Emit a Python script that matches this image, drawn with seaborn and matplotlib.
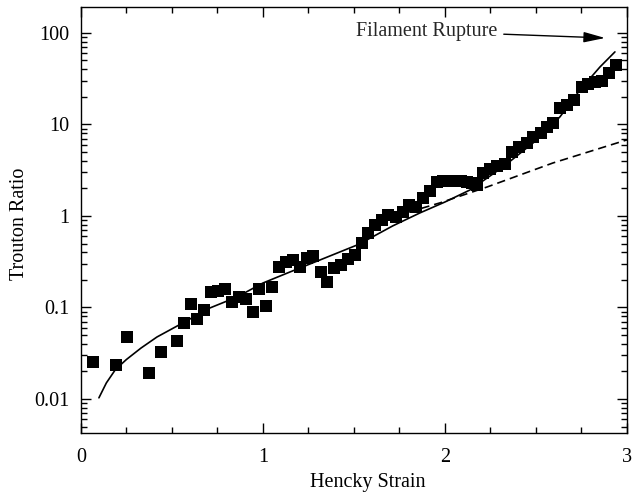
import numpy as np
import pandas as pd
import matplotlib
matplotlib.use("Agg")
import matplotlib.pyplot as plt
from matplotlib.ticker import LogLocator, FixedLocator, NullFormatter, FixedFormatter
import seaborn as sns

# --- data ---
strain = [0.066, 0.192, 0.253, 0.374, 0.440, 0.527, 0.566, 0.604, 0.637, 0.676,
          0.714, 0.753, 0.791, 0.830, 0.868, 0.907, 0.945, 0.978, 1.016, 1.049,
          1.088, 1.126, 1.165, 1.203, 1.242, 1.275, 1.319, 1.352, 1.390, 1.429,
          1.467, 1.505, 1.544, 1.577, 1.615, 1.654, 1.687, 1.731, 1.769, 1.802,
          1.841, 1.879, 1.918, 1.956, 1.989, 2.022, 2.055, 2.088, 2.121, 2.148,
          2.176, 2.209, 2.247, 2.286, 2.330, 2.368, 2.407, 2.451, 2.484, 2.527,
          2.560, 2.593, 2.632, 2.670, 2.709, 2.753, 2.786, 2.824, 2.863, 2.901,
          2.940]
trouton = [0.0254, 0.0235, 0.0476, 0.0192, 0.0327, 0.0430, 0.0678, 0.109, 0.0749, 0.094,
           0.148, 0.151, 0.159, 0.115, 0.130, 0.124, 0.0893, 0.159, 0.104, 0.168,
           0.277, 0.314, 0.330, 0.277, 0.348, 0.366, 0.244, 0.190, 0.270, 0.291,
           0.339, 0.375, 0.507, 0.652, 0.797, 0.904, 1.03, 0.975, 1.11, 1.32,
           1.25, 1.57, 1.88, 2.35, 2.41, 2.41, 2.41, 2.41, 2.35, 2.29,
           2.18, 2.95, 3.26, 3.52, 3.70, 5.01, 5.68, 6.28, 7.30, 8.07,
           9.39, 10.4, 15.1, 16.3, 18.5, 25.7, 27.7, 29.1, 29.9, 36.5,
           44.7]

model_strain = [0.099, 0.140, 0.190, 0.250, 0.330, 0.418, 0.560, 0.709, 0.857, 1.000,
                1.148, 1.313, 1.527, 1.714, 1.863, 2.000, 2.137, 2.319, 2.505, 2.632,
                2.742, 2.852, 2.934]
model_trouton = [0.0103, 0.0150, 0.0210, 0.0270, 0.0360, 0.0476, 0.0678, 0.0988, 0.130, 0.185,
                 0.244, 0.330, 0.49, 0.78, 1.08, 1.42, 1.92, 3.43, 6.77, 12.1,
                 23.8, 42.5, 62.0]

linear_strain = [1.80, 1.973, 2.231, 2.593, 3.0]
linear_trouton = [1.10, 1.39, 2.07, 3.79, 6.78]

ytick_vals = [0.01, 0.1, 1, 10, 100]
ytick_labels = ["0.01", "0.1", "1", "10", "100"]
xtick_vals = [0, 1, 2, 3]
xtick_labels = ["0", "1", "2", "3"]

sns.set_theme(style="ticks")
plt.rcParams["font.family"] = ["Liberation Serif", "DejaVu Serif"]

fig = plt.figure(figsize=(6.32, 4.98), dpi=100)
ax = fig.add_axes([0.128, 0.1305, 0.864, 0.8555])

df_pts = pd.DataFrame({"strain": strain, "trouton": trouton})
df_model = pd.DataFrame({"strain": model_strain, "trouton": model_trouton})
df_lin = pd.DataFrame({"strain": linear_strain, "trouton": linear_trouton})

sns.lineplot(data=df_lin, x="strain", y="trouton", ax=ax, color="black",
             linewidth=1.2, linestyle=(0, (5, 3)), sort=True)
sns.lineplot(data=df_model, x="strain", y="trouton", ax=ax, color="black",
             linewidth=1.2, sort=True)
sns.scatterplot(data=df_pts, x="strain", y="trouton", ax=ax, marker="s",
                color="black", s=75, edgecolor="none", zorder=3)

ax.set_yscale("log")
ax.set_xlim(0, 3)
ax.set_ylim(0.00425, 192)

ax.xaxis.set_major_locator(FixedLocator(xtick_vals))
ax.xaxis.set_major_formatter(FixedFormatter(xtick_labels))
ax.xaxis.set_minor_locator(FixedLocator(np.arange(0, 3.01, 0.25)))
ax.yaxis.set_major_locator(FixedLocator(ytick_vals))
ax.yaxis.set_major_formatter(FixedFormatter(ytick_labels))
ax.yaxis.set_minor_locator(LogLocator(base=10, subs=np.arange(2, 10), numticks=20))
ax.yaxis.set_minor_formatter(NullFormatter())

ax.tick_params(which="both", direction="in", top=True, right=True,
               colors="black", labelsize=14.5, width=1.0)
ax.tick_params(axis="x", which="major", length=7, pad=11)
ax.tick_params(axis="y", which="major", length=7, pad=8)
ax.tick_params(which="minor", length=4.5)
for sp in ax.spines.values():
    sp.set_color("black")
    sp.set_linewidth(1.0)
    sp.set_visible(True)

ax.set_xlabel("Hencky Strain", fontsize=14.5, color="black")
ax.set_ylabel("Trouton Ratio", fontsize=14.5, color="black")
ax.xaxis.set_label_coords(0.526, -0.095)
ax.yaxis.set_label_coords(-0.095, 0.49)

ax.annotate("Filament Rupture", xy=(2.88, 88), xytext=(2.29, 104),
            textcoords="data", fontsize=14.5, ha="right", va="center",
            arrowprops=dict(arrowstyle="-|>,head_length=0.9,head_width=0.22",
                            color="black", lw=1.0, shrinkA=2, shrinkB=0))

fig.savefig("out.png", dpi=100)
